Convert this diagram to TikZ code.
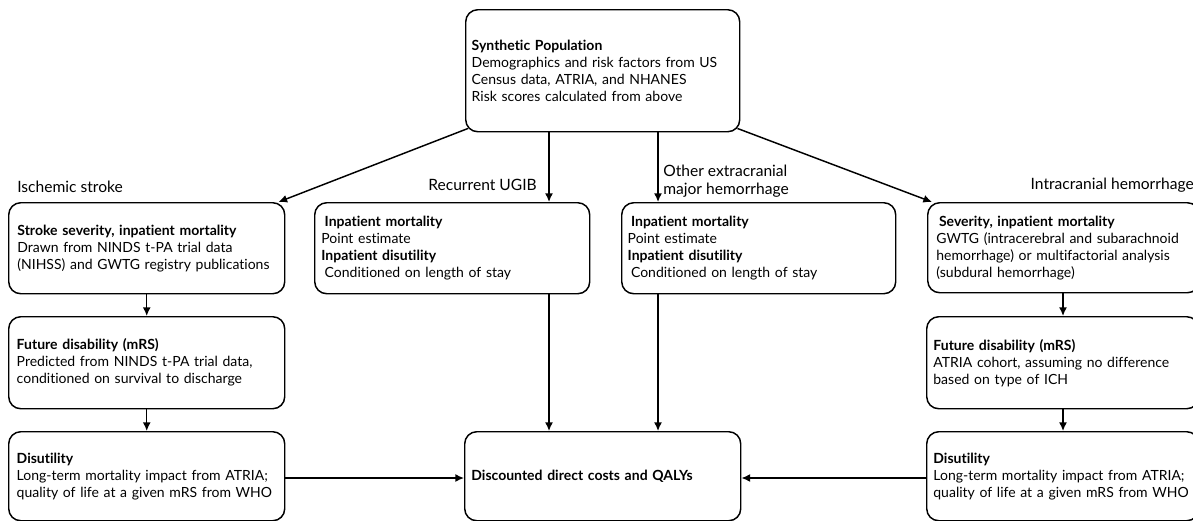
\documentclass[tikz,border=0pt]{standalone}
\usepackage{fontspec}
\setmainfont{Lato}[Ligatures={NoCommon}]
\usetikzlibrary{arrows.meta,calc}
\begin{document}
\begin{tikzpicture}[x=0.75pt,y=-0.75pt,
  box/.style={draw, line width=1.1pt, rounded corners=9pt, anchor=north west,
    align=left, inner ysep=0pt, font=\fontsize{10.5}{12.75}\selectfont},
  lbl/.style={inner sep=0pt, font=\fontsize{11.7}{13.5}\selectfont, align=left},
  arr/.style={line width=1.1pt, -{Latex[length=6.5pt,width=6pt]}}]
\useasboundingbox (0,0) rectangle (1193,521);
% boxes
\node[box, inner xsep=4.5pt, text width=196.5pt, minimum height=91.5pt] (top) at (465,9)
 {\textbf{Synthetic Population}\\Demographics and risk factors from US\\Census data, ATRIA, and NHANES\\Risk scores calculated from above};
\node[box, inner xsep=6.5pt, text width=194pt, minimum height=68.25pt] (isch) at (8,202)
 {\textbf{Stroke severity, inpatient mortality}\\Drawn from NINDS t-PA trial data\\(NIHSS) and GWTG registry publications};
\node[box, inner xsep=5pt, text width=196.25pt, minimum height=68.25pt] (ugib) at (314,202)
 {\hspace{2.5pt}\textbf{Inpatient mortality}\\Point estimate\\\textbf{Inpatient disutility}\\\hspace{2.5pt}Conditioned on length of stay};
\node[box, inner xsep=4.5pt, text width=196.5pt, minimum height=68.25pt] (other) at (621,202)
 {\hspace{2.5pt}\textbf{Inpatient mortality}\\Point estimate\\\textbf{Inpatient disutility}\\\hspace{2.5pt}Conditioned on length of stay};
\node[box, inner xsep=6.5pt, text width=190.75pt, minimum height=67.5pt] (ich) at (927,202)
 {\hspace{2pt}\textbf{Severity, inpatient mortality}\\GWTG (intracerebral and subarachnoid\\hemorrhage) or multifactorial analysis\\(subdural hemorrhage)};
\node[box, inner xsep=6pt, text width=195pt, minimum height=69pt] (isch2) at (8,316)
 {\textbf{Future disability (mRS)}\\Predicted from NINDS t-PA trial data,\\conditioned on survival to discharge};
\node[box, inner xsep=5pt, text width=194pt, minimum height=69pt] (ich2) at (926,316)
 {\textbf{Future disability (mRS)}\\ATRIA cohort, assuming no difference\\based on type of ICH};
\node[box, inner xsep=6pt, text width=195pt, minimum height=66.75pt] (isch3) at (8,431)
 {\textbf{Disutility}\\Long-term mortality impact from ATRIA;\\quality of life at a given mRS from WHO};
\node[box, inner xsep=5pt, text width=194pt, minimum height=66.75pt] (ich3) at (926,431)
 {\textbf{Disutility}\\Long-term mortality impact from ATRIA;\\quality of life at a given mRS from WHO};
\node[box, inner xsep=5pt, text width=197pt, minimum height=66.75pt] (final) at (464,431)
 {\textbf{Discounted direct costs and QALYs}};
% labels
\node[lbl, anchor=west] (lisch) at (17,187) {Ischemic stroke};
\node[lbl, anchor=east] (lugib) at (537,185) {Recurrent UGIB};
\node[lbl, anchor=west] (lother) at (663,181) {Other extracranial\\major hemorrhage};
\node[lbl, anchor=east] (lich) at (1194,185) {Intracranial hemorrhage};
% helper coordinates
\coordinate (cu) at (549,0);
\coordinate (co) at (658,0);
\coordinate (cr) at (1063,0);
\coordinate (ch) at (0,478);
% connectors
\draw[arr] ($(top.south west)+(3,-4)$) -- ($(isch.north east)+(-7,0)$);
\draw[arr] ($(top.south east)+(-3,-4)$) -- ($(ich.north west)+(5,0)$);
\draw[arr] (cu |- top.south) -- (cu |- ugib.north);
\draw[arr] (co |- top.south) -- (co |- other.north);
\draw[arr] (isch.south) -- (isch2.north);
\draw[arr] (isch2.south) -- (isch3.north);
\draw[arr] (ich.south -| cr) -- (ich2.north -| cr);
\draw[arr] (ich2.south -| cr) -- (ich3.north -| cr);
\draw[arr] (ugib.south -| cu) -- (final.north -| cu);
\draw[arr] (other.south -| co) -- (final.north -| co);
\draw[arr] (isch3.east |- ch) -- (final.west |- ch);
\draw[arr] (ich3.west |- ch) -- (final.east |- ch);
\end{tikzpicture}
\end{document}
